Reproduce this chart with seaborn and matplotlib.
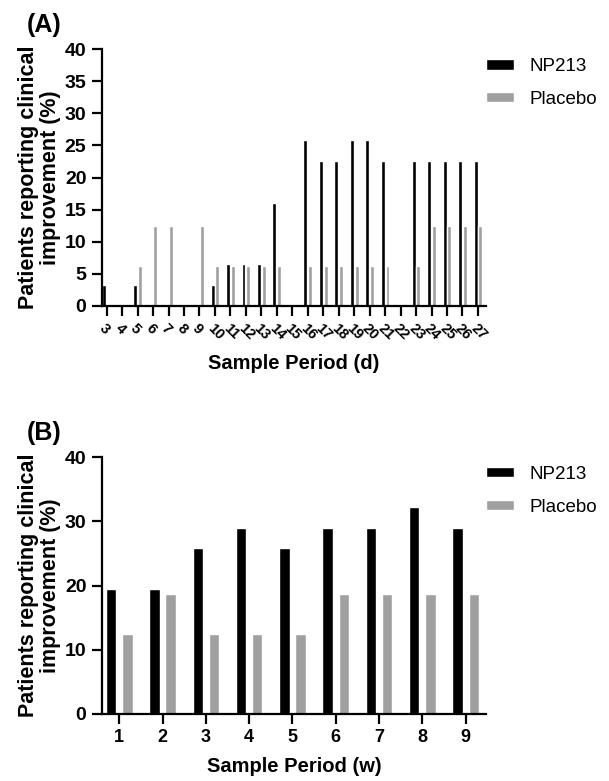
import pandas as pd
import matplotlib
matplotlib.use('Agg')
import matplotlib.pyplot as plt
import seaborn as sns

# Panel A: daily values (%)
days = [str(d) for d in range(3, 28)]
np213_daily = [3.2, 0, 3.2, 0, 0, 0, 0, 3.2, 6.5, 6.5, 6.5, 16.1, 0,
               25.8, 22.6, 22.6, 25.8, 25.8, 22.6, 0, 22.6, 22.6, 22.6, 22.6, 22.6]
placebo_daily = [0, 0, 6.25, 12.5, 12.5, 0, 12.5, 6.25, 6.25, 6.25, 6.25, 6.25, 0,
                 6.25, 6.25, 6.25, 6.25, 6.25, 6.25, 0, 6.25, 12.5, 12.5, 12.5, 12.5]

# Panel B: weekly values (%)
weeks = [str(w) for w in range(1, 10)]
np213_weekly = [19.4, 19.4, 25.8, 29.0, 25.8, 29.0, 29.0, 32.3, 29.0]
placebo_weekly = [12.5, 18.75, 12.5, 12.5, 12.5, 18.75, 18.75, 18.75, 18.75]

groups = ['NP213', 'Placebo']
colors = {'NP213': '#000000', 'Placebo': '#a0a0a0'}

df_a = pd.DataFrame({
    'period': days * 2,
    'value': np213_daily + placebo_daily,
    'group': ['NP213'] * len(days) + ['Placebo'] * len(days),
})
df_b = pd.DataFrame({
    'period': weeks * 2,
    'value': np213_weekly + placebo_weekly,
    'group': ['NP213'] * len(weeks) + ['Placebo'] * len(weeks),
})

sns.set_style('ticks')
plt.rcParams['font.family'] = ['Liberation Sans', 'DejaVu Sans']
plt.rcParams.update({'text.color': 'black', 'axes.labelcolor': 'black',
                     'xtick.color': 'black', 'ytick.color': 'black',
                     'axes.edgecolor': 'black'})

fig = plt.figure(figsize=(6.09, 7.81), dpi=100)
ax_a = fig.add_axes([0.167, 0.6082, 0.631, 0.329])
ax_b = fig.add_axes([0.167, 0.0858, 0.631, 0.329])

ylab = 'Patients reporting clinical\nimprovement (%)'


def style_axis(ax, yticks):
    sns.despine(ax=ax)
    for s in ['left', 'bottom']:
        ax.spines[s].set_linewidth(1.6)
    ax.tick_params(axis='both', width=1.6, length=7.5, color='black')
    ax.set_ylim(0, 40)
    ax.set_yticks(yticks)
    for lab in ax.get_yticklabels():
        lab.set_fontweight('bold')
        lab.set_fontsize(14)
    ax.set_ylabel(ylab, fontsize=15.5, fontweight='bold', labelpad=3, linespacing=1.05)


# (A)
sns.barplot(data=df_a, x='period', y='value', hue='group', order=days, hue_order=groups,
            palette=colors, width=0.62, gap=0.18, saturation=1, errorbar=None, ax=ax_a)
style_axis(ax_a, range(0, 41, 5))
ax_a.set_xlim(-0.32, 24.52)
ax_a.set_xticks(range(len(days)))
ax_a.set_xticklabels(days, rotation=-45, ha='left', va='top', rotation_mode='anchor',
                     fontsize=10.5, fontweight='bold')
ax_a.set_xlabel('Sample Period (d)', fontsize=14.5, fontweight='bold', labelpad=8)

# (B)
sns.barplot(data=df_b, x='period', y='value', hue='group', order=weeks, hue_order=groups,
            palette=colors, width=0.75, gap=0.36, saturation=1, errorbar=None, ax=ax_b)
style_axis(ax_b, range(0, 41, 10))
ax_b.set_xlim(-0.405, 8.47)
for lab in ax_b.get_xticklabels():
    lab.set_fontweight('bold')
    lab.set_fontsize(13)
ax_b.set_xlabel('Sample Period (w)', fontsize=14.5, fontweight='bold', labelpad=8)

# legends outside the axes
for ax, top in [(ax_a, 0.9255), (ax_b, 0.4035)]:
    handles, labels = ax.get_legend_handles_labels()
    ax.legend(handles, labels, loc='upper left', bbox_to_anchor=(0.798, top),
              bbox_transform=fig.transFigure, frameon=False, fontsize=13.5,
              handlelength=1.5, handleheight=0.45, handletextpad=0.8,
              labelspacing=0.85, borderpad=0, borderaxespad=0)

fig.text(0.044, 0.968, '(A)', fontsize=18, fontweight='bold', va='center', ha='left')
fig.text(0.044, 0.446, '(B)', fontsize=18, fontweight='bold', va='center', ha='left')

fig.savefig('out.png', dpi=100)
